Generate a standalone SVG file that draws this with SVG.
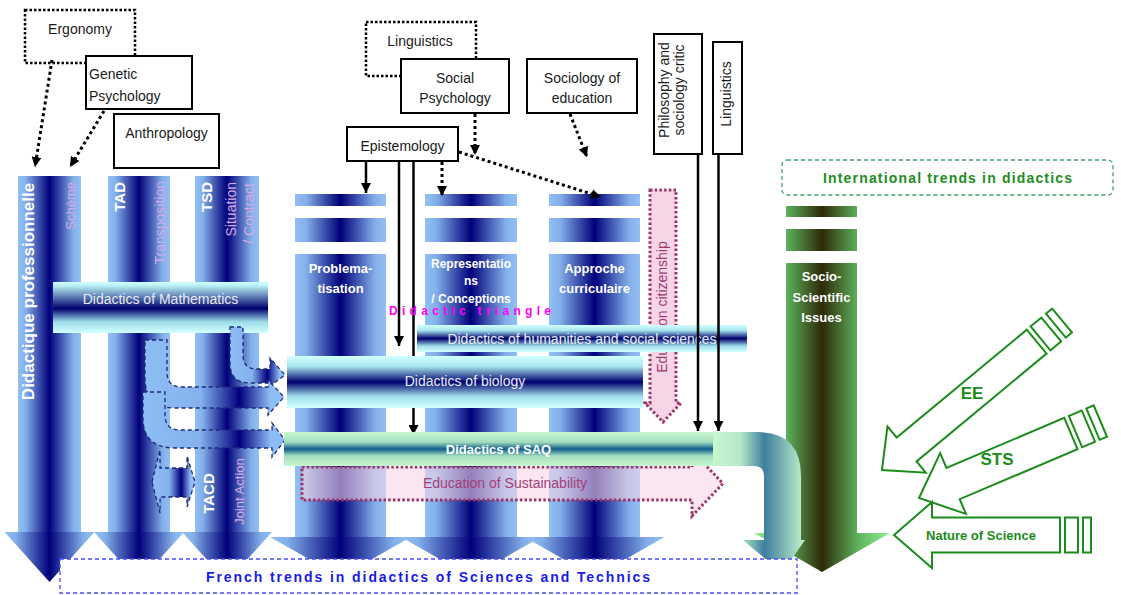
<svg xmlns="http://www.w3.org/2000/svg" width="1121" height="595" viewBox="0 0 1121 595">
<defs>
  <linearGradient id="gCol" x1="0" y1="0" x2="1" y2="0">
    <stop offset="0" stop-color="#92bff4"/>
    <stop offset="0.12" stop-color="#84b0ea"/>
    <stop offset="0.5" stop-color="#00007a"/>
    <stop offset="0.88" stop-color="#84b0ea"/>
    <stop offset="1" stop-color="#92bff4"/>
  </linearGradient>
  <linearGradient id="gBar" x1="0" y1="0" x2="0" y2="1">
    <stop offset="0" stop-color="#d2ffff"/>
    <stop offset="0.2" stop-color="#a8e6ee"/>
    <stop offset="0.5" stop-color="#00006e"/>
    <stop offset="0.78" stop-color="#a0e0ea"/>
    <stop offset="1" stop-color="#d2ffff"/>
  </linearGradient>
  <linearGradient id="gMath" x1="0" y1="0" x2="0" y2="1">
    <stop offset="0" stop-color="#d2ffff"/>
    <stop offset="0.08" stop-color="#b6eef2"/>
    <stop offset="0.52" stop-color="#00006e"/>
    <stop offset="0.78" stop-color="#9cdce8"/>
    <stop offset="1" stop-color="#d2ffff"/>
  </linearGradient>
  <linearGradient id="gSaq" x1="0" y1="0" x2="0" y2="1">
    <stop offset="0" stop-color="#c8f7cf"/>
    <stop offset="0.3" stop-color="#a2dcbe"/>
    <stop offset="0.5" stop-color="#0e5c8c"/>
    <stop offset="0.7" stop-color="#a2dcbe"/>
    <stop offset="1" stop-color="#c8f7cf"/>
  </linearGradient>
  <linearGradient id="gBend" gradientUnits="userSpaceOnUse" x1="713" y1="0" x2="805" y2="0">
    <stop offset="0" stop-color="#c8f7cf"/>
    <stop offset="0.3" stop-color="#b4e8c8"/>
    <stop offset="0.56" stop-color="#3f7f9e"/>
    <stop offset="1" stop-color="#c4f4cc"/>
  </linearGradient>
  <linearGradient id="gGreen" gradientUnits="userSpaceOnUse" x1="754" y1="0" x2="890" y2="0">
    <stop offset="0" stop-color="#90f090"/>
    <stop offset="0.235" stop-color="#5db35d"/>
    <stop offset="0.5" stop-color="#2e2a08"/>
    <stop offset="0.765" stop-color="#5db35d"/>
    <stop offset="1" stop-color="#90f090"/>
  </linearGradient>
  <linearGradient id="gCurve" x1="0" y1="0" x2="1" y2="0">
    <stop offset="0" stop-color="#8ebcf4"/>
    <stop offset="0.4" stop-color="#84b2ee"/>
    <stop offset="0.68" stop-color="#00007c"/>
    <stop offset="0.9" stop-color="#8ebcf4"/>
    <stop offset="1" stop-color="#8ebcf4"/>
  </linearGradient>
  <marker id="ah" viewBox="0 0 10 10" refX="10" refY="5" markerWidth="10" markerHeight="10" markerUnits="userSpaceOnUse" orient="auto">
    <path d="M0,0 L10,5 L0,10 Z" fill="#000"/>
  </marker>
  <style>
    text { font-family: "Liberation Sans", Arial, sans-serif; }
    .col { fill: url(#gCol); }
    .box { fill: #fff; stroke: #000; stroke-width: 2; }
    .dbox { fill: #fff; stroke: #000; stroke-width: 2.5; stroke-dasharray: 2.5 2; }
    .lbl { font-size: 14px; fill: #1a1a1a; text-anchor: middle; }
    .lbl-start { font-size: 14px; fill: #1a1a1a; text-anchor: start; }
    .dot { stroke: #000; stroke-width: 3; stroke-dasharray: 3 3; fill: none; }
    .solid { stroke: #000; stroke-width: 2.5; fill: none; }
    .wb { fill: #fff; font-weight: bold; }
    .lav { fill: #dba8e6; }
    .bar { fill: url(#gBar); }
    .bartxt { fill: #e6ecf5; font-size: 14px; text-anchor: middle; }
    .ctxt { fill: #fff; font-weight: bold; text-anchor: middle; }
    .maroon { stroke: #9c3468; stroke-width: 3; stroke-dasharray: 2.5 2.2; fill: #f6d6e6; }
    .gout { fill: none; stroke: #1a8c1a; stroke-width: 2; }
    .gtxt { fill: #1a8c1a; font-weight: bold; text-anchor: middle; }
    .bdash { fill: url(#gCurve); stroke: #1c2a78; stroke-width: 1.3; stroke-dasharray: 4 3; }
  </style>
</defs>

<!-- left block arrows -->
<g id="col-didactique-pro">
  <rect class="col" x="18" y="176" width="63" height="356"/>
  <polygon class="col" points="4.5,532 94.5,532 49.5,582"/>
  <text class="wb" font-size="17" text-anchor="middle" transform="translate(34,291.5) rotate(-90)">Didactique professionnelle</text>
  <text class="lav" font-size="13" text-anchor="end" transform="translate(74.5,182) rotate(-90)">Schème</text>
</g>
<g id="col-tad">
  <rect class="col" x="108" y="176" width="62" height="356"/>
  <polygon class="col" points="94,532 184,532 139,582"/>
  <text class="wb" font-size="15" text-anchor="end" transform="translate(124.5,182) rotate(-90)">TAD</text>
  <text class="lav" font-size="14" text-anchor="end" transform="translate(165,181) rotate(-90)">Transposition</text>
</g>
<g id="col-tsd">
  <rect class="col" x="195" y="176" width="64" height="356"/>
  <polygon class="col" points="182,532 272,532 227,582"/>
  <text class="wb" font-size="15" text-anchor="end" transform="translate(211.5,182) rotate(-90)">TSD</text>
  <text class="lav" font-size="14" text-anchor="end" transform="translate(236,182) rotate(-90)">Situation</text>
  <text class="lav" font-size="14" text-anchor="end" transform="translate(254,183) rotate(-90)">/ Contract</text>
  <text class="wb" font-size="15" text-anchor="middle" transform="translate(213.5,493.5) rotate(-90)">TACD</text>
  <text class="lav" font-size="13" text-anchor="middle" transform="translate(244,491.5) rotate(-90)">Joint Action</text>
</g>

<!-- middle block arrows -->
<g id="col-problematisation">
  <rect class="col" x="295" y="194" width="91" height="12"/>
  <rect class="col" x="295" y="218" width="91" height="24"/>
  <rect class="col" x="295" y="254" width="91" height="283"/>
  <polygon class="col" points="270,537 411,537 340.5,577"/>
  <text class="ctxt" font-size="13" x="340.5" y="273">Problema-</text>
  <text class="ctxt" font-size="13" x="340.5" y="293">tisation</text>
</g>
<g id="col-representations">
  <rect class="col" x="425" y="194" width="92" height="12"/>
  <rect class="col" x="425" y="218" width="92" height="24"/>
  <rect class="col" x="425" y="254" width="92" height="283"/>
  <polygon class="col" points="401,537 541,537 471,577"/>
  <text class="ctxt" font-size="12" x="471" y="268">Representatio</text>
  <text class="ctxt" font-size="12" x="471" y="285">ns</text>
  <text class="ctxt" font-size="12" x="471" y="303">/ Conceptions</text>
</g>
<g id="col-approche">
  <rect class="col" x="549" y="194" width="91" height="12"/>
  <rect class="col" x="549" y="218" width="91" height="24"/>
  <rect class="col" x="549" y="254" width="91" height="283"/>
  <polygon class="col" points="524.5,537 664.5,537 594.5,577"/>
  <text class="ctxt" font-size="13" x="594.5" y="273">Approche</text>
  <text class="ctxt" font-size="13" x="594.5" y="293">curriculaire</text>
</g>

<!-- green block arrow -->
<g id="col-ssi">
  <rect fill="url(#gGreen)" x="786" y="206" width="71" height="11"/>
  <rect fill="url(#gGreen)" x="786" y="229" width="71" height="22"/>
  <path fill="url(#gGreen)" d="M786,263 L857,263 L857,533 L890,533 L822,572 L754,533 L786,533 Z"/>
  <text class="ctxt" font-size="13" x="821.5" y="281">Socio-</text>
  <text class="ctxt" font-size="13" x="821.5" y="302">Scientific</text>
  <text class="ctxt" font-size="13" x="821.5" y="322">Issues</text>
</g>

<!-- mathematics bar -->
<g id="bar-mathematics">
  <rect fill="url(#gMath)" x="53" y="282" width="215" height="51"/>
  <text class="bartxt" x="160.5" y="304">Didactics of Mathematics</text>
</g>

<!-- source boxes -->
<g id="box-ergonomy">
  <rect class="dbox" x="25" y="10" width="110" height="53"/>
  <text class="lbl" x="80" y="34">Ergonomy</text>
</g>
<g id="box-genetic-psychology">
  <rect class="box" x="86" y="56" width="106" height="53"/>
  <text class="lbl-start" x="89" y="79">Genetic</text>
  <text class="lbl-start" x="89" y="101">Psychology</text>
</g>
<g id="box-anthropology">
  <rect class="box" x="114" y="114" width="105" height="54"/>
  <text class="lbl" x="166.5" y="138">Anthropology</text>
</g>
<g id="box-linguistics">
  <rect class="dbox" x="366" y="22" width="110" height="54"/>
  <text class="lbl" x="420" y="46">Linguistics</text>
</g>
<g id="box-social-psychology">
  <rect class="box" x="401" y="59" width="108" height="54"/>
  <text class="lbl" x="455" y="83">Social</text>
  <text class="lbl" x="455" y="103">Psychology</text>
</g>
<g id="box-sociology">
  <rect class="box" x="527" y="59" width="110" height="54"/>
  <text class="lbl" x="582" y="83">Sociology of</text>
  <text class="lbl" x="582" y="103">education</text>
</g>
<g id="box-epistemology">
  <rect class="box" x="347" y="127" width="111" height="34"/>
  <text class="lbl" x="402.5" y="151">Epistemology</text>
</g>
<g id="box-philosophy">
  <rect class="box" x="654" y="34" width="48" height="120"/>
  <text class="lbl" font-size="12.5" transform="translate(668.5,90) rotate(-90)">Philosophy and</text>
  <text class="lbl" font-size="12.5" transform="translate(683.5,90) rotate(-90)">sociology critic</text>
</g>
<g id="box-linguistics-v">
  <rect class="box" x="713" y="42" width="29" height="112"/>
  <text class="lbl" font-size="12.5" transform="translate(731,94) rotate(-90)">Linguistics</text>
</g>

<!-- connector running behind the biology bar -->
<g id="connectors-back">
  <line class="solid" x1="413.5" y1="161" x2="413.5" y2="435" marker-end="url(#ah)"/>
</g>

<!-- curved dashed transfer arrows -->
<g id="transfer-arrows">
  <path class="bdash" d="M230,327 L243,327 L243,355 Q243,369 257,369 L270,369 L270,358 L285,375 L270,386 L270,383 L250,383 Q230,383 230,363 Z"/>
  <path class="bdash" d="M145,340 L167,340 L167,372 Q167,387 182,387 L268,387 L268,380 L284,397 L268,415 L268,408 L175,408 Q145,408 145,378 Z"/>
  <path class="bdash" d="M143,392 L165,392 L165,415 Q165,430 180,430 L272,430 L272,423 L285,440 L272,457 L272,448 L175,448 Q143,448 143,418 Z"/>
  <path class="bdash" d="M152,482 L160,450 L160,468 L187,468 L187,456 L195,482 L187,507 L187,497 L160,497 L160,513 Z"/>
</g>

<!-- citizenship education (partly under the humanities bar) -->
<g id="education-citizenship">
  <path class="maroon" d="M650,190 L676,190 L676,403 L681,403 L663,422 L645,403 L650,403 Z"/>
  <text fill="#a03a70" font-size="14" text-anchor="middle" transform="translate(667,307) rotate(-90)">Education citizenship</text>
</g>

<g id="bar-biology">
  <rect class="bar" x="287" y="356" width="356" height="52"/>
  <text class="bartxt" x="465" y="386">Didactics of biology</text>
</g>
<g id="bar-humanities">
  <rect class="bar" x="417" y="325" width="330" height="27"/>
  <text class="bartxt" x="582" y="344">Didactics of humanities and social sciences</text>
</g>

<text id="didactic-triangle" x="389" y="315" font-size="12" font-weight="bold" fill="#ff00ff" textLength="162" lengthAdjust="spacing">Didactic triangle</text>

<!-- sustainability education -->
<g id="education-sustainability">
  <path class="maroon" fill-opacity="0.6" d="M302,467 L692,467 L692,451 L723,483.5 L692,516 L692,500 L302,500 Z"/>
  <text fill="#a3407a" font-size="14" text-anchor="middle" x="505" y="488">Education of Sustainability</text>
</g>

<!-- SAQ bar with bent arrow -->
<g id="bar-saq">
  <path fill="url(#gBend)" d="M713,432 L757,432 Q801,432 801,476 L801,540 L805,540 L782,573 L743,540 L764,540 L764,476 Q764,466 754,466 L713,466 Z"/>
  <rect fill="url(#gSaq)" x="284" y="432" width="429" height="34"/>
  <text class="ctxt" font-size="13" x="498.5" y="454">Didactics of SAQ</text>
</g>

<!-- connectors -->
<g id="connectors">
  <line class="dot" x1="52" y1="60" x2="35" y2="167" marker-end="url(#ah)"/>
  <line class="dot" x1="104" y1="111" x2="70" y2="167" marker-end="url(#ah)"/>
  <line class="dot" x1="475" y1="114" x2="475" y2="155" marker-end="url(#ah)"/>
  <line class="dot" x1="570" y1="114" x2="587" y2="157" marker-end="url(#ah)"/>
  <line class="dot" x1="459" y1="152" x2="601" y2="197" marker-end="url(#ah)"/>
  <line class="dot" x1="442" y1="162" x2="442" y2="196" marker-end="url(#ah)"/>
  <line class="solid" x1="366" y1="161" x2="366" y2="193" marker-end="url(#ah)"/>
  <line class="solid" x1="399" y1="161" x2="399" y2="346" marker-end="url(#ah)"/>
  <line class="solid" x1="698" y1="154" x2="698" y2="431" marker-end="url(#ah)"/>
  <line class="solid" x1="718.5" y1="154" x2="718.5" y2="431" marker-end="url(#ah)"/>
</g>

<!-- trend frames -->
<g id="french-trends">
  <rect x="60" y="559" width="737" height="34" fill="#fff" stroke="#4a4aff" stroke-width="1.3" stroke-dasharray="4 3"/>
  <text x="206" y="582" font-size="14" font-weight="bold" fill="#1a1ae6" textLength="444" lengthAdjust="spacing">French trends in didactics of Sciences and Technics</text>
</g>
<g id="international-trends">
  <rect x="782" y="160" width="331" height="35" rx="5" fill="none" stroke="#3aa56a" stroke-width="1.3" stroke-dasharray="4 3"/>
  <text x="823" y="183" font-size="14" font-weight="bold" fill="#1e8c1e" textLength="249" lengthAdjust="spacing">International trends in didactics</text>
</g>

<!-- international influences -->
<g id="arrow-ee">
  <g transform="translate(882,470) rotate(-39.7)">
    <path class="gout" d="M0,0 L32,-30 L32,-15.5 L201,-15.5 L201,15.5 L32,15.5 L32,30 Z"/>
    <rect class="gout" x="206" y="-15.5" width="14" height="31"/>
    <rect class="gout" x="226" y="-15.5" width="8" height="31"/>
  </g>
  <text class="gtxt" font-size="17" x="972" y="399">EE</text>
</g>
<g id="arrow-sts">
  <g transform="translate(919,498) rotate(-23)">
    <path class="gout" d="M0,0 L37,-33 L37,-17 L165,-17 L165,17 L37,17 L37,33 Z"/>
    <rect class="gout" x="170" y="-17" width="14" height="34"/>
    <rect class="gout" x="189" y="-17" width="8" height="34"/>
  </g>
  <text class="gtxt" font-size="17" x="997" y="465">STS</text>
</g>
<g id="arrow-nos">
  <g transform="translate(894,535)">
    <path class="gout" d="M0,0 L38,-33 L38,-17.5 L166,-17.5 L166,17.5 L38,17.5 L38,33 Z"/>
    <rect class="gout" x="171" y="-17.5" width="13" height="35"/>
    <rect class="gout" x="189" y="-17.5" width="8" height="35"/>
  </g>
  <text class="gtxt" font-size="13" x="981" y="540">Nature of Science</text>
</g>
</svg>
